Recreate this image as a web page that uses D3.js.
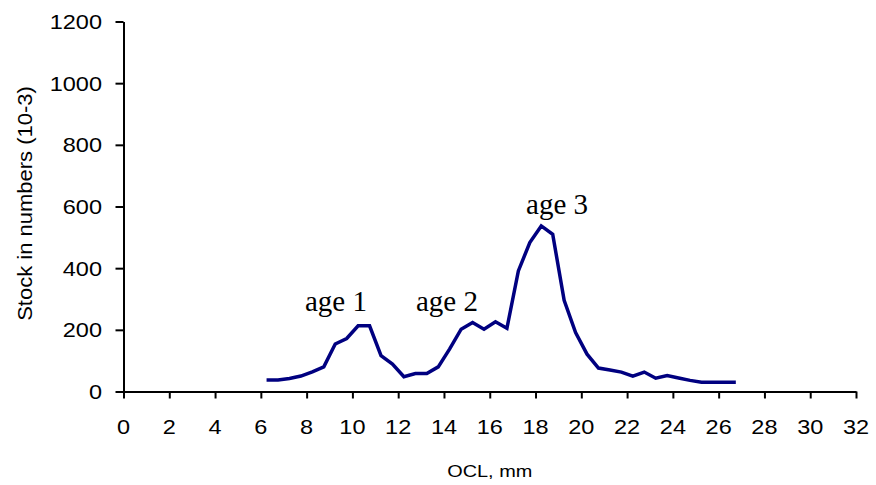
<!DOCTYPE html>
<html>
<head>
<meta charset="utf-8">
<script src="https://cdn.jsdelivr.net/npm/d3@7"></script>
<style>
  html, body { margin: 0; padding: 0; background: #fff; }
  svg { display: block; }
</style>
</head>
<body>
<svg id="chart" width="876" height="485"></svg>
<script>
// ---- data ----
const oclMM = [6.25, 6.75, 7.25, 7.75, 8.25, 8.75, 9.25, 9.75, 10.25, 10.75,
               11.25, 11.75, 12.25, 12.75, 13.25, 13.75, 14.25, 14.75, 15.25, 15.75,
               16.25, 16.75, 17.25, 17.75, 18.25, 18.75, 19.25, 19.75, 20.25, 20.75,
               21.25, 21.75, 22.25, 22.75, 23.25, 23.75, 24.25, 24.75, 25.25, 25.75,
               26.25, 26.75];
const stock = [37, 37, 42, 50, 64, 80, 154, 172, 213, 213,
               116, 89, 48, 58, 58, 80, 138, 202, 224, 202,
               226, 205, 391, 483, 537, 510, 296, 191, 121, 76,
               70, 63, 50, 63, 43, 52, 44, 36, 30, 30,
               30, 30];
const xTicks = [0, 2, 4, 6, 8, 10, 12, 14, 16, 18, 20, 22, 24, 26, 28, 30, 32];
const yTicks = [0, 200, 400, 600, 800, 1000, 1200];
const annoText = ["age 1", "age 2", "age 3"];
const annoX = [9.28, 14.13, 18.94];
const annoY = [262, 262, 575];

// ---- layout ----
const svg = d3.select("#chart");
const x = d3.scaleLinear().domain([0, 32]).range([123.5, 856]);
const y = d3.scaleLinear().domain([0, 1200]).range([391.5, 21.5]);
const sans = "'Liberation Sans', Arial, sans-serif";
const stretch = 1.12;

// x axis
const gx = svg.append("g").attr("transform", `translate(0,${y(0)})`)
  .call(d3.axisBottom(x).tickValues(xTicks).tickSize(7).tickSizeOuter(0).tickFormat(""));
gx.select(".domain").attr("stroke", "#000").attr("stroke-width", 2);
gx.selectAll(".tick line").attr("stroke", "#000").attr("stroke-width", 2);

svg.append("g").selectAll("text").data(xTicks).join("text")
  .attr("transform", d => `translate(${x(d)},${y(0) + 42.5}) scale(${stretch},1)`)
  .attr("text-anchor", "middle")
  .attr("font-family", sans).attr("font-size", 21).attr("fill", "#000")
  .text(d => d);

// y axis
const gy = svg.append("g").attr("transform", `translate(${x(0)},0)`)
  .call(d3.axisLeft(y).tickValues(yTicks).tickSize(8).tickSizeOuter(0).tickFormat(""));
gy.select(".domain").attr("stroke", "#000").attr("stroke-width", 2);
gy.selectAll(".tick line").attr("stroke", "#000").attr("stroke-width", 2);

svg.append("g").selectAll("text").data(yTicks).join("text")
  .attr("transform", d => `translate(${x(0) - 21.5},${y(d) + 7.5}) scale(${stretch},1)`)
  .attr("text-anchor", "end")
  .attr("font-family", sans).attr("font-size", 21).attr("fill", "#000")
  .text(d => d);

// axis titles
svg.append("text")
  .attr("transform", `translate(${(x(0) + x(32)) / 2},477) scale(1.17,1)`)
  .attr("text-anchor", "middle")
  .attr("font-family", sans).attr("font-size", 17).attr("fill", "#000")
  .text("OCL, mm");

svg.append("text")
  .attr("transform", `translate(31.5,${(y(0) + y(1200)) / 2 - 3}) rotate(-90) scale(1.1,1)`)
  .attr("text-anchor", "middle")
  .attr("font-family", sans).attr("font-size", 20).attr("fill", "#000")
  .text("Stock in numbers (10-3)");

// line
const line = d3.line().x((d, i) => x(oclMM[i])).y(d => y(d));
svg.append("path").datum(stock)
  .attr("d", line)
  .attr("fill", "none")
  .attr("stroke", "#000080")
  .attr("stroke-width", 3.5)
  .attr("stroke-linejoin", "miter");

// annotations
svg.append("g").selectAll("text").data(annoText).join("text")
  .attr("x", (d, i) => x(annoX[i]))
  .attr("y", (d, i) => y(annoY[i]))
  .attr("text-anchor", "middle")
  .attr("font-family", "'Liberation Serif', 'Times New Roman', serif")
  .attr("font-size", 29).attr("fill", "#000")
  .text(d => d);
</script>
</body>
</html>
